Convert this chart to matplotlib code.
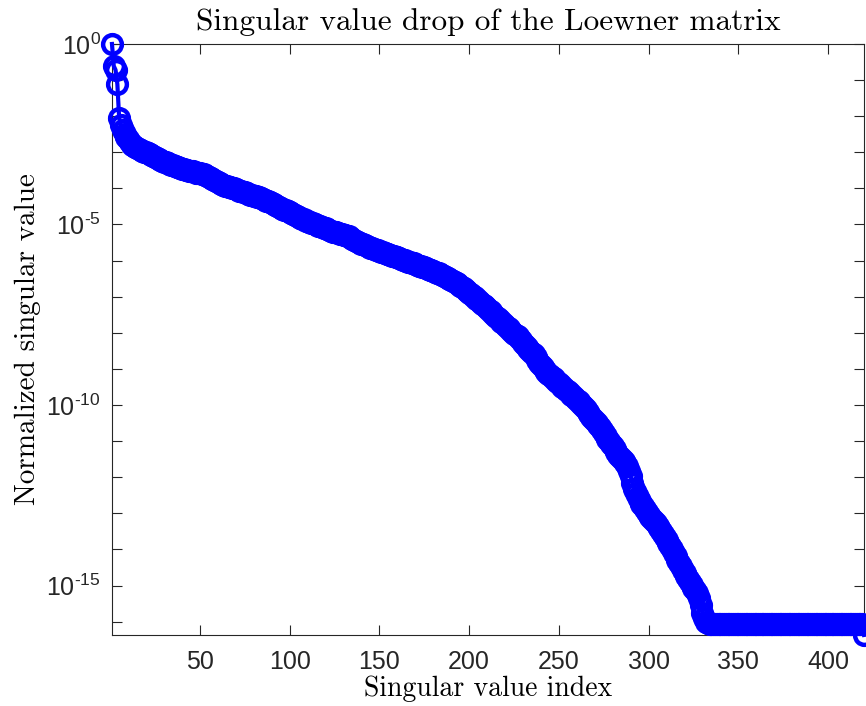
import numpy as np
import matplotlib
matplotlib.use('Agg')
import matplotlib.pyplot as plt
import matplotlib.ticker as mticker

plt.rcParams['font.family'] = 'Liberation Sans'
plt.rcParams['mathtext.fontset'] = 'custom'
plt.rcParams['mathtext.rm'] = 'Liberation Sans'
plt.rcParams['mathtext.default'] = 'regular'

# log10 of the normalized singular values, index 1..333
log_sv_drop = [
    0.00, -0.61, -0.72, -1.11, -2.05, -2.24, -2.38, -2.50, -2.57, -2.63,
    -2.72, -2.80, -2.83, -2.86, -2.88, -2.91, -2.93, -2.96, -2.98, -3.00,
    -3.03, -3.05, -3.08, -3.10, -3.13, -3.15, -3.18, -3.21, -3.24, -3.26,
    -3.28, -3.30, -3.32, -3.34, -3.36, -3.38, -3.40, -3.42, -3.44, -3.46,
    -3.47, -3.48, -3.50, -3.51, -3.52, -3.53, -3.55, -3.56, -3.57, -3.58,
    -3.59, -3.61, -3.63, -3.65, -3.68, -3.71, -3.74, -3.77, -3.80, -3.83,
    -3.86, -3.88, -3.90, -3.92, -3.93, -3.95, -3.97, -3.99, -4.00, -4.02,
    -4.04, -4.06, -4.08, -4.09, -4.11, -4.13, -4.15, -4.17, -4.18, -4.20,
    -4.22, -4.24, -4.25, -4.27, -4.29, -4.31, -4.34, -4.36, -4.39, -4.41,
    -4.44, -4.46, -4.49, -4.51, -4.54, -4.56, -4.59, -4.61, -4.64, -4.66,
    -4.69, -4.71, -4.74, -4.76, -4.79, -4.82, -4.84, -4.86, -4.89, -4.91,
    -4.93, -4.95, -4.97, -4.99, -5.01, -5.03, -5.05, -5.07, -5.09, -5.11,
    -5.13, -5.15, -5.17, -5.20, -5.21, -5.22, -5.24, -5.25, -5.26, -5.28,
    -5.29, -5.31, -5.33, -5.37, -5.41, -5.44, -5.47, -5.49, -5.51, -5.53,
    -5.55, -5.58, -5.60, -5.62, -5.64, -5.66, -5.68, -5.70, -5.72, -5.74,
    -5.76, -5.77, -5.79, -5.81, -5.83, -5.84, -5.86, -5.88, -5.90, -5.91,
    -5.93, -5.95, -5.97, -5.99, -6.01, -6.03, -6.05, -6.06, -6.08, -6.10,
    -6.12, -6.14, -6.16, -6.18, -6.19, -6.21, -6.23, -6.25, -6.27, -6.29,
    -6.31, -6.33, -6.35, -6.37, -6.40, -6.42, -6.45, -6.48, -6.51, -6.54,
    -6.57, -6.60, -6.63, -6.66, -6.70, -6.73, -6.77, -6.81, -6.85, -6.89,
    -6.93, -6.97, -7.01, -7.06, -7.10, -7.15, -7.19, -7.23, -7.27, -7.32,
    -7.36, -7.40, -7.45, -7.50, -7.55, -7.59, -7.64, -7.69, -7.74, -7.78,
    -7.83, -7.88, -7.92, -7.97, -8.02, -8.06, -8.10, -8.14, -8.20, -8.27,
    -8.34, -8.40, -8.45, -8.50, -8.55, -8.60, -8.67, -8.75, -8.83, -8.90,
    -8.96, -9.03, -9.09, -9.14, -9.18, -9.22, -9.26, -9.31, -9.35, -9.40,
    -9.45, -9.50, -9.54, -9.58, -9.62, -9.67, -9.72, -9.76, -9.80, -9.85,
    -9.90, -9.95, -10.00, -10.06, -10.12, -10.18, -10.25, -10.32, -10.38, -10.44,
    -10.50, -10.56, -10.62, -10.69, -10.77, -10.85, -10.93, -11.00, -11.07, -11.14,
    -11.22, -11.30, -11.38, -11.45, -11.50, -11.55, -11.60, -11.68, -11.82, -11.98,
    -12.15, -12.32, -12.45, -12.56, -12.65, -12.73, -12.80, -12.88, -12.96, -13.04,
    -13.10, -13.16, -13.22, -13.28, -13.35, -13.42, -13.50, -13.57, -13.65, -13.73,
    -13.82, -13.91, -14.00, -14.09, -14.18, -14.28, -14.37, -14.47, -14.57, -14.66,
    -14.74, -14.82, -14.90, -14.98, -15.06, -15.13, -15.20, -15.35, -15.55, -15.75,
    -15.90, -16.00, -16.05,
]
# machine-precision floor (index 334..419) and the last value (index 420)
log_sv_floor = [-16.07] * 86
log_sv_last = [-16.37]

log_sv = np.array(log_sv_drop + log_sv_floor + log_sv_last)
sv = 10.0 ** log_sv
idx = np.arange(1, len(sv) + 1)

xticks = [50, 100, 150, 200, 250, 300, 350, 400]
ytick_exps = list(range(-16, 1))
labelled_exps = [0, -5, -10, -15]

fig = plt.figure(figsize=(8.66, 7.06), dpi=100)
ax = fig.add_axes([0.1293, 0.1006, 0.8684, 0.8371])

ax.semilogy(idx, sv, 'o-', color=(0, 0, 1), mfc='none', mec=(0, 0, 1),
            ms=13.5, mew=3.2, lw=3.0, clip_on=False, zorder=3)

ax.set_xlim(1, len(sv))
ax.set_ylim(sv.min(), sv.max())

ax.set_xticks(xticks)
ax.yaxis.set_major_locator(mticker.FixedLocator([10.0 ** e for e in ytick_exps]))
ax.yaxis.set_minor_locator(mticker.NullLocator())
ax.xaxis.set_minor_locator(mticker.NullLocator())


def ylab(v, pos):
    e = int(round(np.log10(v)))
    if e not in labelled_exps:
        return ''
    if e == 0:
        return r'$10^{0}$'
    return r'$10^{\text{-}%d}$' % abs(e)


ax.yaxis.set_major_formatter(mticker.FuncFormatter(ylab))

ax.tick_params(which='both', direction='in', top=True, right=True,
               length=7, width=0.8, colors='0.15', labelsize=18, pad=8)
ax.tick_params(axis='x', pad=11)
for s in ax.spines.values():
    s.set_color('0.15')
    s.set_linewidth(0.8)

ax.set_title('Singular value drop of the Loewner matrix', fontname='cmr10',
             fontsize=22.5, pad=10)
ax.set_xlabel('Singular value index', fontname='cmr10', fontsize=20, labelpad=1)
ax.set_ylabel('Normalized singular value', fontname='cmr10', fontsize=21, labelpad=4)

plt.savefig('out.png', dpi=100)
plt.close()
